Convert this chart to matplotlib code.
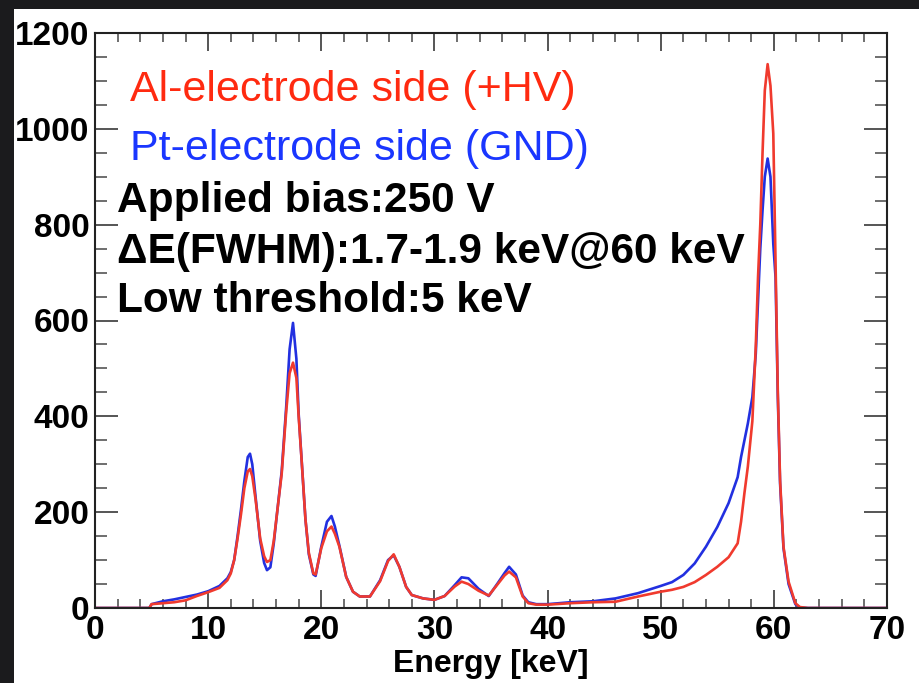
import matplotlib.pyplot as plt
from matplotlib.patches import Rectangle
from matplotlib.ticker import MultipleLocator

plt.rcParams['font.family'] = ['Liberation Sans', 'DejaVu Sans']

# energy points (keV)
energia = [0, 4.8, 5.0, 6.0, 7.0, 8.0, 9.0, 10.0, 11.0, 11.7, 12.0, 12.3, 12.6, 12.9,
           13.2, 13.5, 13.7, 13.9, 14.2, 14.6, 14.95, 15.2, 15.5, 15.8, 16.1, 16.5,
           16.9, 17.2, 17.5, 17.8, 18.0, 18.3, 18.6, 18.9, 19.3, 19.5, 20.0, 20.5,
           20.9, 21.2, 21.6, 22.2, 22.8, 23.4, 24.3, 25.2, 25.9, 26.4, 26.9, 27.5,
           28.0, 29.0, 30.0, 30.9, 31.8, 32.4, 33.0, 33.9, 34.8, 35.6, 36.2, 36.6,
           37.2, 37.8, 38.3, 39.0, 40.0, 42.0, 44.0, 46.0, 48.0, 50.0, 51.0, 52.0,
           53.0, 54.0, 55.0, 56.0, 56.8, 57.1, 57.4, 57.7, 58.1, 58.4, 58.6, 58.8,
           59.0, 59.2, 59.45, 59.7, 59.95, 60.15, 60.35, 60.55, 60.85, 61.3, 61.9,
           62.3, 63.0, 70.0]

# Al-electrode side (+HV)
cuentas_al = [0, 0, 8, 10, 12, 16, 25, 33, 42, 58, 72, 100, 145, 195,
              250, 285, 290, 275, 225, 145, 108, 96, 100, 140, 200, 280,
              410, 490, 512, 480, 400, 295, 185, 115, 72, 70, 125, 160,
              170, 155, 128, 65, 34, 24, 24, 56, 98, 112, 86, 44,
              27, 20, 17, 25, 45, 55, 50, 36, 26, 50, 68, 76,
              64, 24, 10, 7, 7, 10, 12, 13, 24, 34, 38, 44,
              54, 69, 86, 106, 135, 180, 240, 295, 390, 545, 690, 800,
              950, 1080, 1135, 1090, 990, 720, 450, 267, 128, 55, 10,
              2, 0, 0]

# Pt-electrode side (GND)
cuentas_pt = [0, 0, 8, 14, 18, 23, 28, 35, 46, 62, 75, 100, 150, 205,
              265, 315, 322, 300, 230, 140, 94, 79, 85, 135, 200, 285,
              420, 540, 595, 520, 405, 295, 185, 112, 70, 67, 128, 180,
              192, 170, 130, 65, 34, 24, 24, 58, 100, 110, 86, 44,
              27, 20, 17, 25, 48, 64, 62, 40, 25, 52, 73, 86,
              70, 26, 12, 8, 8, 12, 14, 20, 31, 46, 54, 69,
              93, 128, 169, 219, 273, 315, 350, 385, 440, 530, 640, 750,
              830, 900, 938, 900, 760, 690, 440, 260, 125, 50, 8,
              1, 0, 0]

fig = plt.figure(figsize=(9.19, 6.83), dpi=100, facecolor='#1b1b1d')
# panel blanco de la diapositiva
panel = Rectangle((14 / 919, 0), 1, 674 / 683, transform=fig.transFigure,
                  facecolor='white', edgecolor='none', zorder=-10)
fig.add_artist(panel)

ax = fig.add_axes([95 / 919, 75 / 683, 792 / 919, 575 / 683])
ax.plot(energia, cuentas_pt, color='#2230e0', lw=1.9)
ax.plot(energia, cuentas_al, color='#f03a2e', lw=1.9)

ax.set_xlim(0, 70)
ax.set_ylim(0, 1200)
ax.xaxis.set_major_locator(MultipleLocator(10))
ax.xaxis.set_minor_locator(MultipleLocator(2))
ax.yaxis.set_major_locator(MultipleLocator(200))
ax.yaxis.set_minor_locator(MultipleLocator(50))

ax.tick_params(axis='both', which='both', direction='in', top=True, right=True, color='#555555')
ax.tick_params(axis='x', which='major', length=13, width=1.4, pad=5, labelsize=24)
ax.tick_params(axis='x', which='minor', length=6.5, width=1.2)
ax.tick_params(axis='y', which='major', length=16.5, width=1.4, pad=4, labelsize=24)
ax.tick_params(axis='y', which='minor', length=8.5, width=1.2)
for lbl in ax.get_xticklabels() + ax.get_yticklabels():
    lbl.set_fontweight('bold')
for s in ax.spines.values():
    s.set_color('#222222')
    s.set_linewidth(1.5)

ax.set_xlabel('Energy [keV]', fontsize=23, fontweight='bold', labelpad=2)

ax.text(0.0442, 0.8817, 'Al-electrode side (+HV)', transform=ax.transAxes,
        color='#ff2a10', fontsize=31, va='baseline')
ax.text(0.0442, 0.779, 'Pt-electrode side (GND)', transform=ax.transAxes,
        color='#1a36ff', fontsize=31, va='baseline')
ax.text(0.0278, 0.6887, 'Applied bias:250 V', transform=ax.transAxes,
        color='black', fontsize=30.5, fontweight='bold', va='baseline')
ax.text(0.0278, 0.600, 'ΔE(FWHM):1.7-1.9 keV@60 keV', transform=ax.transAxes,
        color='black', fontsize=30.5, fontweight='bold', va='baseline')
ax.text(0.0278, 0.5148, 'Low threshold:5 keV', transform=ax.transAxes,
        color='black', fontsize=30.5, fontweight='bold', va='baseline')

fig.savefig('out.png', dpi=100, facecolor=fig.get_facecolor())
